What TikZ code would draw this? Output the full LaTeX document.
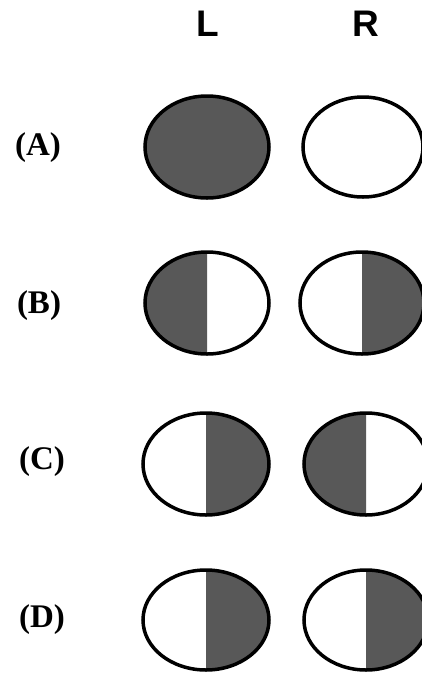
\documentclass[tikz,border=0pt]{standalone}
\usepackage{fontspec}
\setmainfont{Liberation Serif}
\setsansfont{Liberation Sans}
\definecolor{shade}{RGB}{88,88,88}
\begin{document}
\begin{tikzpicture}[x=1pt,y=-1pt,
 lbl/.style={font=\fontsize{33}{33}\selectfont\bfseries},
 hdr/.style={font=\fontsize{37}{37}\selectfont\sffamily\bfseries},
 rim/.style={line width=3.5pt},half/.style={fill=shade}]
\useasboundingbox (0,0) rectangle (421,673);
\node[hdr] (hL) at (208,24) {L};
\node[hdr] (hR) at (366,24) {R};
\node[lbl] (lA) at (38,148) {(A)};
\node[lbl] (lB) at (39,306) {(B)};
\node[lbl] (lC) at (42,462) {(C)};
\node[lbl] (lD) at (42,620) {(D)};
% row A
\fill[half] (207,147) ellipse[x radius=62,y radius=51];
\draw[rim] (207,147) ellipse[x radius=62,y radius=51];
\draw[rim] (363,147) ellipse[x radius=60,y radius=50];
% row B
\fill[half] (207,354) arc[start angle=90,end angle=270,x radius=62,y radius=51] -- cycle;
\fill[half] (362,354) arc[start angle=90,end angle=-90,x radius=62,y radius=51] -- cycle;
\draw[rim] (207,303) ellipse[x radius=62,y radius=51];
\draw[rim] (362,303) ellipse[x radius=62,y radius=51];
% row C
\fill[half] (206,515) arc[start angle=90,end angle=-90,x radius=63,y radius=51] -- cycle;
\fill[half] (366,515) arc[start angle=90,end angle=270,x radius=62,y radius=51] -- cycle;
\draw[rim] (206,464) ellipse[x radius=63,y radius=51];
\draw[rim] (366,464) ellipse[x radius=62,y radius=51];
% row D
\fill[half] (206,670) arc[start angle=90,end angle=-90,x radius=63,y radius=50] -- cycle;
\fill[half] (366,670) arc[start angle=90,end angle=-90,x radius=62,y radius=50] -- cycle;
\draw[rim] (206,620) ellipse[x radius=63,y radius=50];
\draw[rim] (366,620) ellipse[x radius=62,y radius=50];
\end{tikzpicture}
\end{document}
